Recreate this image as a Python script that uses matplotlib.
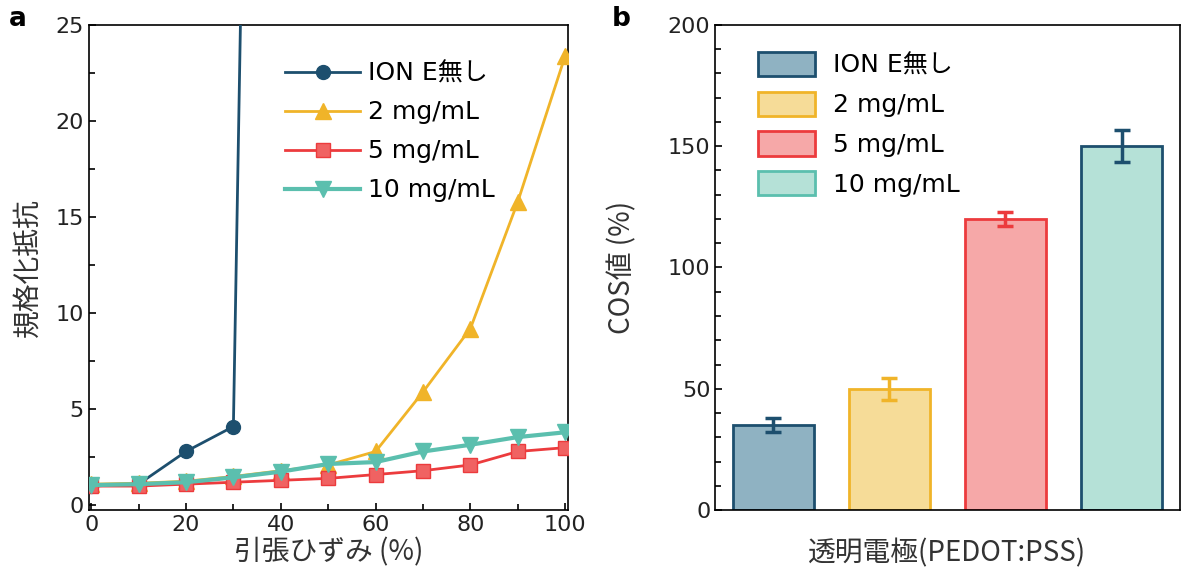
import numpy as np
import matplotlib
matplotlib.use('Agg')
import matplotlib.pyplot as plt
from matplotlib.ticker import MultipleLocator
from matplotlib.patches import Patch

plt.rcParams['font.family'] = ['DejaVu Sans', 'Noto Sans CJK JP']

# Panel a data
strain        = [0, 10, 20, 30, 40, 50, 60, 70, 80, 90, 100]
strain_none   = [0, 10, 20, 30, 40]
res_none      = [1.0, 1.1, 2.8, 4.1, 145]
res_2         = [1.1, 1.15, 1.25, 1.5, 1.8, 2.1, 2.8, 5.9, 9.2, 15.8, 23.4]
res_5         = [1.0, 1.0, 1.1, 1.2, 1.3, 1.4, 1.6, 1.8, 2.1, 2.8, 3.0]
res_10        = [1.05, 1.1, 1.2, 1.45, 1.75, 2.15, 2.25, 2.8, 3.15, 3.55, 3.8]

# Panel b data
labels   = ['ION E無し', '2 mg/mL', '5 mg/mL', '10 mg/mL']
cos_val  = [35, 50, 120, 150]
cos_err  = [3, 4.5, 3, 6.5]

navy   = '#1d4f6e'
yellow = '#f0b429'
red    = '#ec3b3d'
teal   = '#5bbfae'
txt    = '#333333'
jp     = ['Noto Sans CJK JP', 'DejaVu Sans']

fig = plt.figure(figsize=(12, 5.79), dpi=100)
ax1 = fig.add_axes([0.074, 0.119, 0.399, 0.838])
ax2 = fig.add_axes([0.596, 0.119, 0.387, 0.838])

# --- panel a ---
ax1.plot(strain_none, res_none, '-o', color=navy, lw=2, ms=10, label=labels[0], zorder=3)
ax1.plot(strain, res_2, '-^', color=yellow, lw=2, ms=11, label=labels[1], zorder=3)
ax1.plot(strain, res_5, '-s', color=red, lw=2, ms=10, mfc='#f06262', label=labels[2], zorder=4)
ax1.plot(strain, res_10, '-v', color=teal, lw=3, ms=11, label=labels[3], zorder=5)
ax1.set_xlim(-0.5, 100.5)
ax1.set_ylim(-0.25, 25)
ax1.xaxis.set_major_locator(MultipleLocator(20))
ax1.xaxis.set_minor_locator(MultipleLocator(10))
ax1.yaxis.set_major_locator(MultipleLocator(5))
ax1.yaxis.set_minor_locator(MultipleLocator(2.5))
ax1.tick_params(direction='in', which='both', labelsize=16, length=5, width=1.2,
                labelcolor='#222222')
ax1.tick_params(which='minor', length=4)
ax1.set_xlabel('引張ひずみ (%)', fontsize=20, color=txt, family=jp, labelpad=2)
ax1.set_ylabel('規格化抵抗', fontsize=20, color=txt, family=jp, labelpad=9)
ax1.legend(loc='upper left', bbox_to_anchor=(0.41, 0.925), frameon=False, fontsize=18,
           handlelength=3.0, handletextpad=0.3, labelspacing=0.6, borderaxespad=0,
           borderpad=0)

# --- panel b ---
fills  = ['#8fb2c2', '#f6dc98', '#f6a8a8', '#b5e1d7']
edges  = [navy, yellow, red, navy]
ecols  = [navy, yellow, red, navy]
x = np.arange(len(cos_val))
ax2.bar(x, cos_val, width=0.7, color=fills, edgecolor=edges, linewidth=2)
for i in range(len(cos_val)):
    ax2.errorbar(x[i], cos_val[i], yerr=cos_err[i], color=ecols[i], capsize=6,
                 capthick=2.5, elinewidth=2.5, fmt='none')
ax2.set_xlim(-0.5, 3.5)
ax2.set_ylim(0, 200)
ax2.set_xticks([])
ax2.yaxis.set_major_locator(MultipleLocator(50))
ax2.yaxis.set_minor_locator(MultipleLocator(10))
ax2.tick_params(direction='in', which='both', labelsize=16, length=5, width=1.2,
                labelcolor='#222222')
ax2.tick_params(which='minor', length=4)
ax2.set_xlabel('透明電極(PEDOT:PSS)', fontsize=20, color=txt, family=jp, labelpad=20)
ax2.set_ylabel('COS値 (%)', fontsize=20, color=txt, family=jp, labelpad=22)
handles = [Patch(facecolor=fills[i], edgecolor=[navy, yellow, red, teal][i], linewidth=2)
           for i in range(4)]
ax2.legend(handles, labels, loc='upper left', bbox_to_anchor=(0.092, 0.944), frameon=False,
           fontsize=18, handlelength=2.3, handleheight=1.12, handletextpad=0.7,
           labelspacing=0.56, borderaxespad=0, borderpad=0)

for ax in (ax1, ax2):
    for s in ax.spines.values():
        s.set_linewidth(1.2)

fig.text(0.007, 0.955, 'a', fontsize=19, fontweight='bold')
fig.text(0.510, 0.955, 'b', fontsize=19, fontweight='bold')

fig.savefig('out.png', dpi=100)
